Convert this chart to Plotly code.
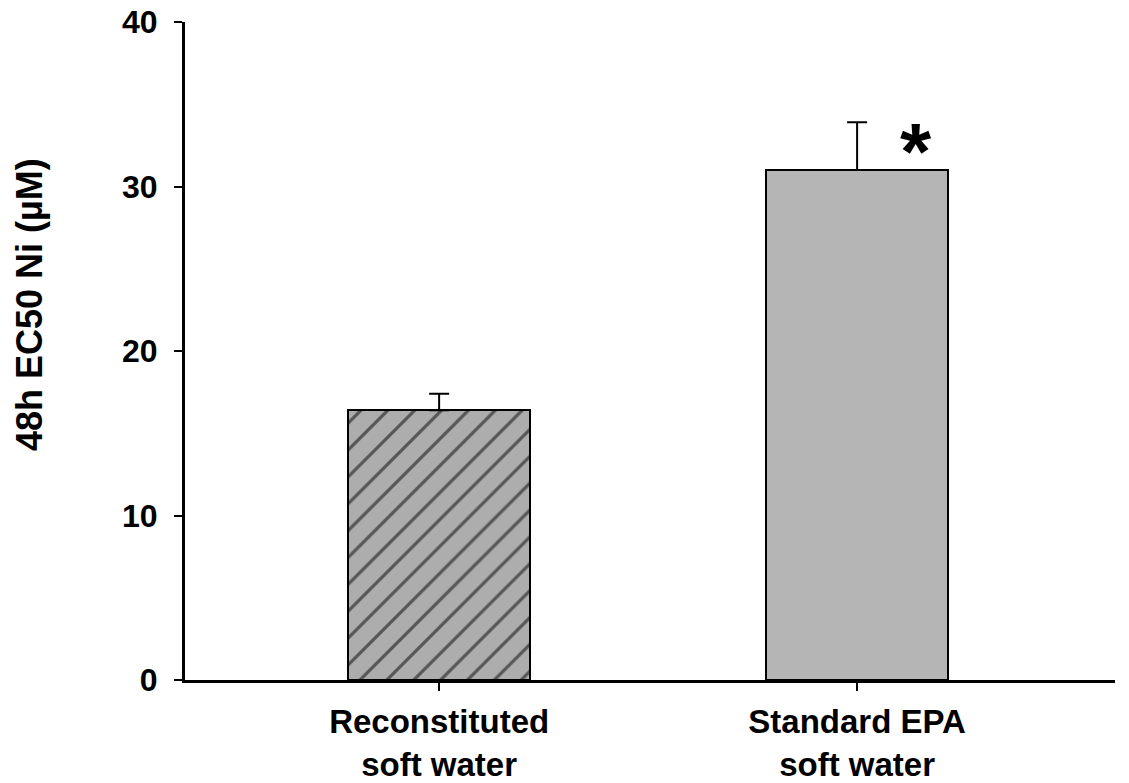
import plotly.graph_objects as go

categories = ["Reconstituted<br>soft water", "Standard EPA<br>soft water"]
values = [16.4, 31.0]
errors_up = [1.0, 2.9]
yticks = [0, 10, 20, 30, 40]
significance = ["", "*"]

xpos = list(range(len(categories)))
FAM = "Liberation Sans, Arial"

fig = go.Figure()
fig.add_trace(go.Bar(
    x=[xpos[0]], y=[values[0]], width=0.435,
    marker=dict(color="#adadad", line=dict(color="black", width=2),
                pattern=dict(shape="/", fgcolor="black", bgcolor="#adadad", size=19, solidity=0.17)),
    error_y=dict(type="data", symmetric=False, array=[errors_up[0]], arrayminus=[0],
                 color="black", thickness=2, width=10),
    showlegend=False,
))
fig.add_trace(go.Bar(
    x=[xpos[1]], y=[values[1]], width=0.435,
    marker=dict(color="#b5b5b5", line=dict(color="black", width=2)),
    error_y=dict(type="data", symmetric=False, array=[errors_up[1]], arrayminus=[0],
                 color="black", thickness=2, width=10),
    showlegend=False,
))

for i, s in enumerate(significance):
    if s:
        fig.add_annotation(x=xpos[i] + 0.14, y=values[i] + errors_up[i] - 1.75, text="<b>" + s + "</b>",
                           showarrow=False, font=dict(size=80, family=FAM, color="black"),
                           xanchor="center", yanchor="middle")

fig.add_annotation(xref="paper", yref="paper", x=-0.167, y=0.571,
                   text="<b>48h EC50 Ni (µM)</b>", textangle=-90, showarrow=False,
                   font=dict(size=36, family=FAM, color="black"),
                   xanchor="center", yanchor="middle")

font = dict(family=FAM, size=31, color="black")
fig.update_layout(
    width=1129, height=783,
    margin=dict(l=185, r=14, t=22, b=103),
    paper_bgcolor="white", plot_bgcolor="white",
    font=font,
    bargap=0,
    xaxis=dict(range=[-0.608, 1.617], tickvals=xpos,
               ticktext=["<b>" + c.replace("<br>", "</b><br><b>") + "</b>" for c in categories],
               tickfont=dict(size=33, family=FAM, color="black"),
               showline=True, linecolor="black", linewidth=3,
               ticks="outside", ticklen=8, tickwidth=1.5, tickcolor="black",
               ticklabelstandoff=2, ticklabeloverflow="allow",
               showgrid=False, zeroline=False, automargin=False),
    yaxis=dict(range=[0, 40], tickvals=yticks, ticktext=["<b>%d</b>" % t for t in yticks],
               tickfont=dict(size=32, family=FAM, color="black"),
               showline=True, linecolor="black", linewidth=3,
               ticks="outside", ticklen=8, tickwidth=1.5, tickcolor="black",
               ticklabelstandoff=10, ticklabeloverflow="allow",
               showgrid=False, zeroline=False, automargin=False),
)

fig.write_html("out.html", config={"displayModeBar": False},
               post_script="document.body.style.margin='0';document.body.style.overflow='hidden';")
